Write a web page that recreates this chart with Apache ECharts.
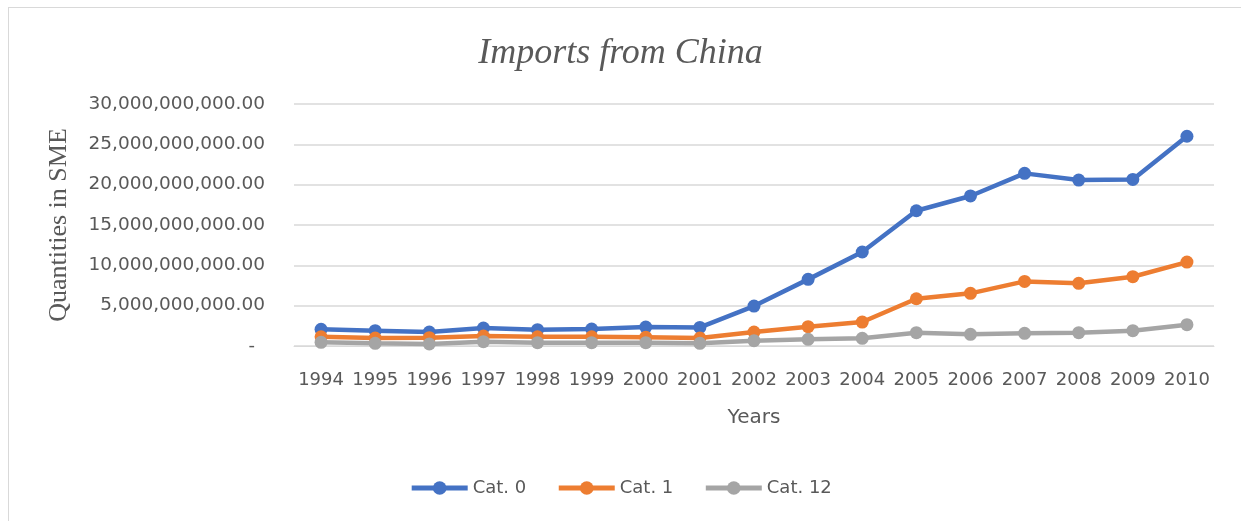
<!DOCTYPE html>
<html>
<head>
<meta charset="utf-8">
<title>Imports from China</title>
<script src="https://cdn.jsdelivr.net/npm/echarts@6/dist/echarts.min.js"></script>
<style>
  html, body { margin: 0; padding: 0; background: #fff; }
  #frame { position: absolute; left: 8px; top: 7px; width: 1240px; height: 520px; border: 1px solid #d9d9d9; }
  #m1 { position: absolute; left: 0; top: 0; width: 1241px; height: 521px; }
</style>
</head>
<body>
<div id="frame"></div>
<div id="m1"></div>
<script>
// 数据
var years = ['1994','1995','1996','1997','1998','1999','2000','2001','2002',
             '2003','2004','2005','2006','2007','2008','2009','2010'];
var cat0 = [2.07e9, 1.90e9, 1.73e9, 2.23e9, 2.02e9, 2.10e9, 2.35e9, 2.30e9, 4.95e9,
            8.26e9, 11.65e9, 16.77e9, 18.60e9, 21.40e9, 20.57e9, 20.65e9, 26.00e9];
var cat1 = [1.15e9, 0.99e9, 1.03e9, 1.24e9, 1.15e9, 1.15e9, 1.10e9, 0.99e9, 1.73e9,
            2.40e9, 2.97e9, 5.86e9, 6.53e9, 8.01e9, 7.77e9, 8.59e9, 10.40e9];
var cat12 = [0.45e9, 0.33e9, 0.25e9, 0.54e9, 0.41e9, 0.41e9, 0.41e9, 0.33e9, 0.66e9,
             0.83e9, 0.95e9, 1.65e9, 1.45e9, 1.57e9, 1.65e9, 1.90e9, 2.64e9];

function initChart(){
    var myChart = echarts.init(document.getElementById('m1'));
    var textColor = '#595959';
    var sans = 'DejaVu Sans';

    function makeSeries(name, data, color){
        return {
            name: name,
            type: 'line',
            data: data,
            symbol: 'circle',
            symbolSize: 13,
            lineStyle: { width: 4.5, color: color },
            itemStyle: { color: color },
            emphasis: { disabled: true }
        };
    }

    var option = {
        animation: false,
        title: {
            text: 'Imports from China',
            left: 'center',
            top: 31,
            textStyle: {
                fontFamily: 'Liberation Serif',
                fontStyle: 'italic',
                fontWeight: 'normal',
                fontSize: 36,
                color: textColor
            }
        },
        legend: {
            data: ['Cat. 0', 'Cat. 1', 'Cat. 12'],
            bottom: 19,
            left: 'center',
            itemWidth: 56,
            itemHeight: 17,
            itemGap: 30,
            lineStyle: { width: 5 },
            textStyle: { fontFamily: sans, fontSize: 18, color: textColor }
        },
        grid: { left: 294, right: 27, top: 104, bottom: 175 },
        xAxis: {
            type: 'category',
            data: years,
            name: 'Years',
            nameLocation: 'middle',
            nameGap: 62,
            nameTextStyle: { fontFamily: sans, fontSize: 20, color: textColor },
            axisTick: { show: false },
            axisLine: { lineStyle: { color: '#d9d9d9', width: 1 } },
            axisLabel: { interval: 0, fontFamily: sans, fontSize: 18, color: textColor, margin: 25 }
        },
        yAxis: {
            type: 'value',
            min: 0,
            max: 30e9,
            interval: 5e9,
            name: 'Quantities in SME',
            nameLocation: 'middle',
            nameGap: 222,
            nameTextStyle: { fontFamily: 'Liberation Serif', fontSize: 26, color: textColor },
            axisLine: { show: false },
            axisTick: { show: false },
            splitLine: { lineStyle: { color: '#d9d9d9', width: 1.5 } },
            axisLabel: {
                fontFamily: sans,
                fontSize: 18.5,
                color: textColor,
                margin: 29,
                formatter: function(v){
                    if (v === 0) return '{z|-}';
                    return v.toLocaleString('en-US', { minimumFractionDigits: 2, maximumFractionDigits: 2 });
                },
                rich: {
                    z: { fontFamily: sans, fontSize: 18, color: textColor, padding: [0, 10, 0, 0] }
                }
            }
        },
        series: [
            makeSeries('Cat. 0', cat0, '#4472C4'),
            makeSeries('Cat. 1', cat1, '#ED7D31'),
            makeSeries('Cat. 12', cat12, '#A5A5A5')
        ]
    };
    myChart.setOption(option);
    window.addEventListener('resize', () => {
        myChart.resize()
    });
}

initChart();
</script>
</body>
</html>
